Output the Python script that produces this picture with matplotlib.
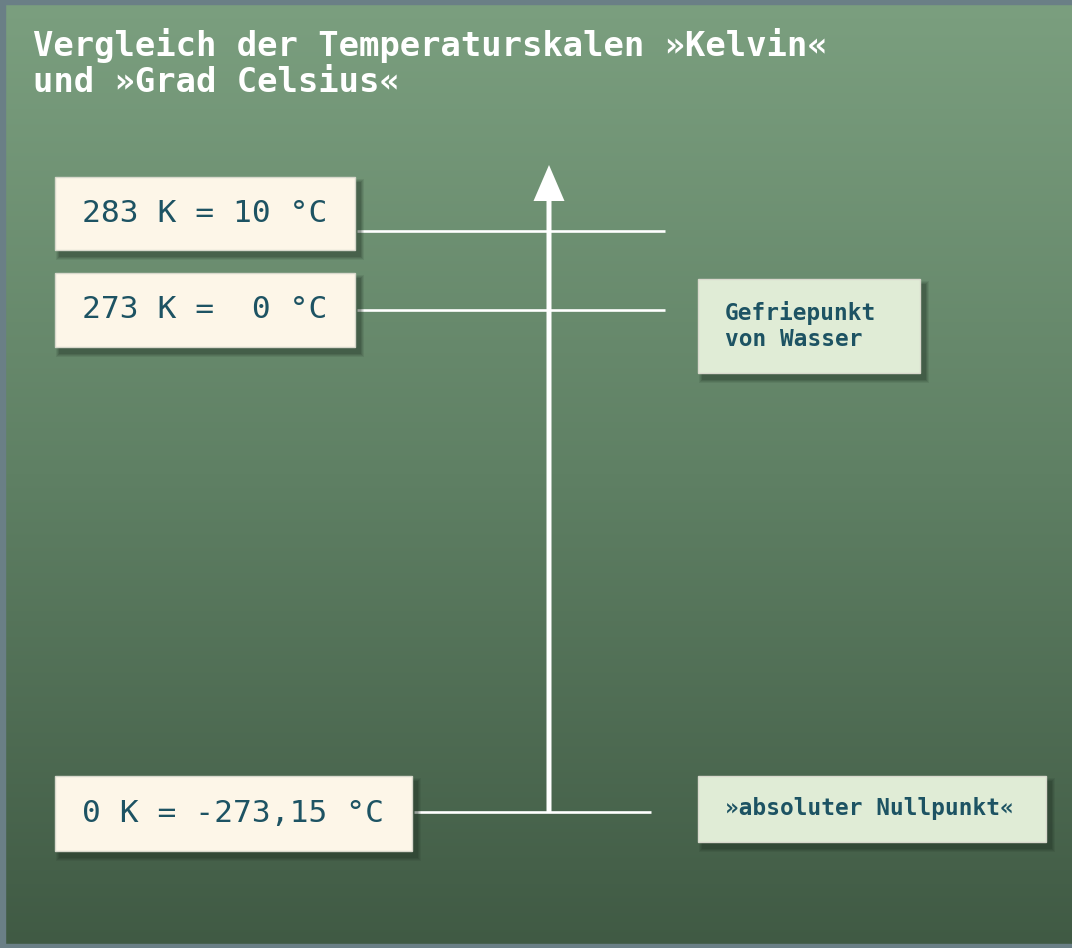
import numpy as np
import matplotlib
matplotlib.use("Agg")
import matplotlib.pyplot as plt
from matplotlib.patches import Rectangle
from matplotlib.colors import LinearSegmentedColormap

# ---- data ----
title_lines = ["Vergleich der Temperaturskalen »Kelvin«", "und »Grad Celsius«"]
kelvin = [283, 273, 0]
celsius = [10, 0, -273.15]
annotations = ["", "Gefriepunkt\nvon Wasser", "»absoluter Nullpunkt«"]

def fmt_c(c):
    if float(c).is_integer():
        return f"{int(c):>2d}"
    return f"{c:.2f}".replace(".", ",")

labels = [f"{k} K = {fmt_c(c)} °C" for k, c in zip(kelvin, celsius)]

# ---- layout (pixel coordinates) ----
W, H = 1072, 948
row_y = [231, 310, 812]            # connector line heights
box_top = [177, 273, 776]
box_h = [73, 74, 75]
box_w = [300, 300, 357]
box_x = 55
line_end = [665, 665, 651]
ann_boxes = [None, (698, 279, 222, 94), (698, 776, 348, 66)]
arrow_x = 549

fig = plt.figure(figsize=(W / 100, H / 100), dpi=100)
ax = fig.add_axes([0, 0, 1, 1])
ax.set_xlim(0, W)
ax.set_ylim(H, 0)
ax.axis("off")

# background gradient
cmap = LinearSegmentedColormap.from_list(
    "bg", ["#7b9f7f", "#5f8064", "#405a44"])
grad = np.linspace(0, 1, 400).reshape(-1, 1)
ax.imshow(grad, cmap=cmap, extent=[0, W, H, 0], aspect="auto", zorder=0)

# frame
fc = "#6a7f86"
ax.add_patch(Rectangle((0, 0), 5, H, color=fc, zorder=1))
ax.add_patch(Rectangle((0, 0), W, 4, color=fc, zorder=1))
ax.add_patch(Rectangle((0, H - 4), W, 4, color=fc, zorder=1))

def shadow_box(x, y, w, h, face, z=3):
    for i, a in enumerate([0.10, 0.12, 0.15, 0.18]):
        grow = 4 - i
        ax.add_patch(Rectangle((x + 5 - grow, y + 6 - grow), w + 2 * grow, h + 2 * grow,
                               facecolor="#1e2e22", edgecolor="none", alpha=a, zorder=z))
    ax.add_patch(Rectangle((x, y), w, h, facecolor=face, edgecolor="#d8d8cc",
                           lw=1.0, zorder=z + 1))

# title
for i, t in enumerate(title_lines):
    ax.text(33, 45 + i * 37, t, color="white", fontsize=24.4, fontweight="bold",
            family="DejaVu Sans Mono", va="center", ha="left", zorder=5)

# vertical arrow
ax.arrow(arrow_x, row_y[2], 0, 165 - row_y[2], width=5, head_width=31,
         head_length=36, length_includes_head=True, color="white",
         ec="none", zorder=3)

txt_col = "#1d5363"
for i, lab in enumerate(labels):
    shadow_box(box_x, box_top[i], box_w[i], box_h[i], "#fdf6e8")
    ax.text(box_x + 27, box_top[i] + box_h[i] / 2, lab, color=txt_col,
            fontsize=22.5, family="DejaVu Sans Mono", va="center", ha="left",
            zorder=6)
    ax.plot([box_x + box_w[i] + 2, line_end[i]], [row_y[i], row_y[i]],
            color="white", lw=1.9, solid_capstyle="butt", zorder=2)
    if ann_boxes[i] is not None:
        bx, by, bw, bh = ann_boxes[i]
        shadow_box(bx, by, bw, bh, "#e0ecd6")
        ax.text(bx + 27, by + bh / 2, annotations[i], color=txt_col,
                fontsize=16.4, fontweight="bold", family="DejaVu Sans Mono",
                va="center", ha="left", linespacing=1.2, zorder=6)

fig.savefig("out.png", dpi=100)
